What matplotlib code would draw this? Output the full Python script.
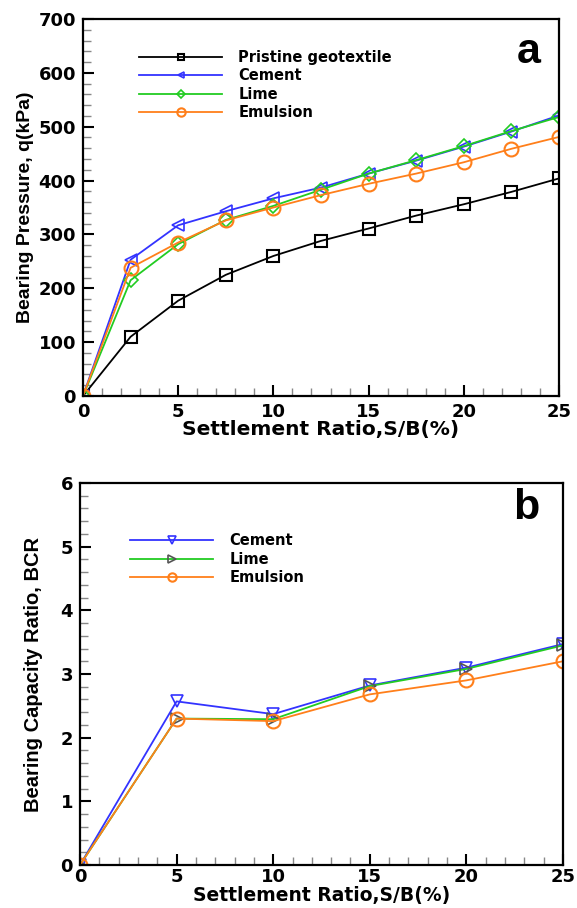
import numpy as np
import matplotlib
matplotlib.use("Agg")
import matplotlib.pyplot as plt
from matplotlib.ticker import MultipleLocator

plt.rcParams['font.family'] = ['Liberation Sans', 'DejaVu Sans']
plt.rcParams['font.weight'] = 'bold'

# panel a data: bearing pressure (kPa) vs settlement ratio (%)
s_a = [0, 2.5, 5, 7.5, 10, 12.5, 15, 17.5, 20, 22.5, 25]
q_pristine = [0, 110, 177, 225, 260, 288, 311, 335, 356, 379, 404]
q_cement = [0, 253, 317, 343, 367, 387, 413, 437, 463, 491, 521]
q_lime = [0, 215, 282, 327, 353, 383, 413, 438, 464, 492, 518]
q_emulsion = [0, 238, 285, 326, 350, 373, 394, 413, 434, 459, 481]

# panel b data: BCR vs settlement ratio (%)
s_b = [0, 5, 10, 15, 20, 25]
bcr_cement = [0, 2.57, 2.37, 2.82, 3.10, 3.47]
bcr_lime = [0, 2.30, 2.29, 2.81, 3.08, 3.45]
bcr_emulsion = [0, 2.30, 2.26, 2.68, 2.90, 3.20]

BLUE = '#3333ff'
GREEN = '#22cc22'
ORANGE = '#ff7f1a'
WIDE = ['DejaVu Sans']


def style_axes(ax):
    for sp in ax.spines.values():
        sp.set_linewidth(1.6)
    ax.tick_params(which='both', direction='in', top=False, right=False)
    ax.tick_params(which='major', length=8, width=1.5, labelsize=13, pad=5)
    ax.tick_params(which='minor', length=5.5, width=1.0, color='#888888')
    for lab in ax.get_xticklabels() + ax.get_yticklabels():
        lab.set_fontweight('bold')
        lab.set_family(WIDE)


fig = plt.figure(figsize=(5.77, 9.08), dpi=100)

# ---- panel a ----
ax1 = fig.add_axes([83 / 577, 1 - 396 / 908, 476 / 577, 377 / 908])
ax1.plot(s_a, q_pristine, color='black', lw=1.3, marker='s', ms=8, mfc='none', mew=1.5, label='Pristine geotextile')
ax1.plot(s_a, q_cement, color=BLUE, lw=1.3, marker='<', ms=8, mfc='none', mew=1.2, label='Cement')
ax1.plot(s_a, q_lime, color=GREEN, lw=1.3, marker='D', ms=7, mfc='none', mew=1.2, label='Lime')
ax1.plot(s_a, q_emulsion, color=ORANGE, lw=1.3, marker='o', ms=10, mfc='none', mew=1.5, label='Emulsion')
ax1.set_xlim(0, 25)
ax1.set_ylim(0, 700)
ax1.xaxis.set_major_locator(MultipleLocator(5))
ax1.xaxis.set_minor_locator(MultipleLocator(1))
ax1.yaxis.set_major_locator(MultipleLocator(100))
ax1.yaxis.set_minor_locator(MultipleLocator(20))
style_axes(ax1)
ax1.set_xlabel('Settlement Ratio,S/B(%)', fontsize=14.5, fontweight='bold', family=WIDE, labelpad=-1)
ax1.set_ylabel('Bearing Pressure, q(kPa)', fontsize=14, fontweight='bold')
ax1.yaxis.set_label_coords(-0.103, 0.5)
ax1.legend(loc='upper left', bbox_to_anchor=(56 / 476, 0.917), frameon=False,
           handlelength=5.7, handletextpad=1.1, labelspacing=0.22, markerscale=0.6,
           borderpad=0, borderaxespad=0, prop={'weight': 'bold', 'size': 10.5, 'family': WIDE})
ax1.text((529 - 83) / 476, 0.912, 'a', transform=ax1.transAxes, fontsize=31, fontweight='bold',
         ha='center', va='center')

# ---- panel b ----
ax2 = fig.add_axes([80 / 577, 1 - 865 / 908, 483 / 577, 382 / 908])
ax2.plot(s_b, bcr_cement, color=BLUE, lw=1.3, marker='v', ms=9, mfc='none', mew=1.2, label='Cement')
ax2.plot(s_b, bcr_lime, color=GREEN, lw=1.3, marker='>', ms=9, mfc='none', mec='#555555', mew=1.2, label='Lime')
ax2.plot(s_b, bcr_emulsion, color=ORANGE, lw=1.3, marker='o', ms=10, mfc='none', mew=1.5, label='Emulsion')
ax2.set_xlim(0, 25)
ax2.set_ylim(0, 6)
ax2.xaxis.set_major_locator(MultipleLocator(5))
ax2.xaxis.set_minor_locator(MultipleLocator(1))
ax2.yaxis.set_major_locator(MultipleLocator(1))
ax2.yaxis.set_minor_locator(MultipleLocator(0.2))
style_axes(ax2)
ax2.tick_params(axis='x', which='major', pad=2)
ax2.set_xlabel('Settlement Ratio,S/B(%)', fontsize=13.5, fontweight='bold', family=WIDE, labelpad=0)
ax2.set_ylabel('Bearing Capacity Ratio, BCR', fontsize=14.5, fontweight='bold')
ax2.yaxis.set_label_coords(-0.077, 0.5)
ax2.legend(loc='upper left', bbox_to_anchor=(50 / 483, 0.868), frameon=False,
           handlelength=5.7, handletextpad=1.1, labelspacing=0.22, markerscale=0.6,
           borderpad=0, borderaxespad=0, prop={'weight': 'bold', 'size': 10.5, 'family': WIDE})
ax2.text((526 - 80) / 483, 0.935, 'b', transform=ax2.transAxes, fontsize=31, fontweight='bold',
         ha='center', va='center')

fig.savefig('out.png', dpi=100)
